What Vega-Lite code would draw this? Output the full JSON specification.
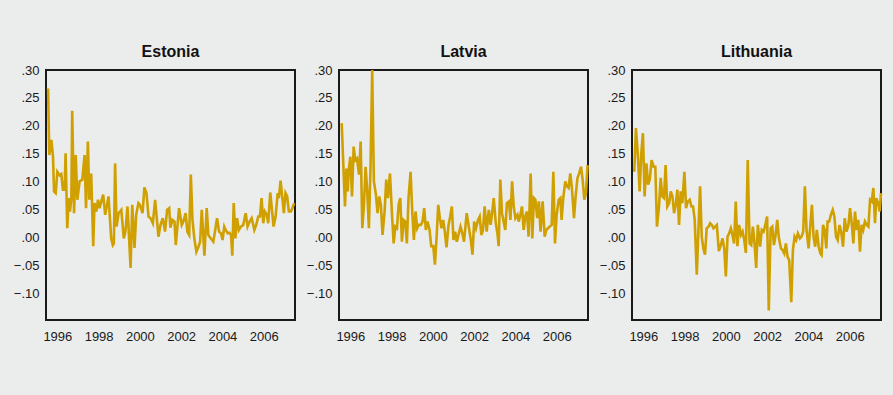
{
  "$schema": "https://vega.github.io/schema/vega-lite/v6.json",
  "background": "#ebecec",
  "padding": {"left": 10, "top": 43, "right": 20, "bottom": 60},
  "spacing": 2,
  "config": {
    "view": {"stroke": "#1a1a1a", "strokeWidth": 2, "fill": null},
    "axis": {"domain": false, "ticks": false, "grid": false, "labelFont": "Liberation Sans", "labelFontSize": 13, "labelColor": "#1a1a1a", "title": null},
    "title": {"font": "Liberation Sans", "fontSize": 16, "fontWeight": "bold", "color": "#111111", "anchor": "middle", "frame": "group", "baseline": "alphabetic", "offset": 4},
    "line": {"color": "#cfa000", "strokeWidth": 2.6, "clip": true}
  },
  "datasets": {
    "est": [
      {"t":1995.55,"v":0.267},{"t":1995.61,"v":0.148},{"t":1995.71,"v":0.175},{"t":1995.79,"v":0.145},{"t":1995.84,"v":0.083},{"t":1995.92,"v":0.080},{"t":1996.00,"v":0.118},{"t":1996.11,"v":0.112},{"t":1996.19,"v":0.114},{"t":1996.27,"v":0.086},{"t":1996.35,"v":0.086},{"t":1996.40,"v":0.151},{"t":1996.48,"v":0.017},{"t":1996.55,"v":0.071},{"t":1996.61,"v":0.047},{"t":1996.68,"v":0.071},{"t":1996.72,"v":0.227},{"t":1996.81,"v":0.044},{"t":1996.89,"v":0.148},{"t":1996.97,"v":0.068},{"t":1997.08,"v":0.101},{"t":1997.21,"v":0.104},{"t":1997.32,"v":0.148},{"t":1997.39,"v":0.053},{"t":1997.48,"v":0.172},{"t":1997.55,"v":0.068},{"t":1997.64,"v":0.115},{"t":1997.74,"v":-0.015},{"t":1997.80,"v":0.062},{"t":1997.89,"v":0.047},{"t":1997.97,"v":0.068},{"t":1998.05,"v":0.053},{"t":1998.13,"v":0.065},{"t":1998.22,"v":0.077},{"t":1998.32,"v":0.041},{"t":1998.48,"v":0.074},{"t":1998.61,"v":-0.001},{"t":1998.69,"v":-0.013},{"t":1998.74,"v":-0.010},{"t":1998.80,"v":0.133},{"t":1998.87,"v":0.020},{"t":1998.97,"v":0.044},{"t":1999.10,"v":0.050},{"t":1999.22,"v":-0.001},{"t":1999.30,"v":0.011},{"t":1999.40,"v":0.056},{"t":1999.47,"v":0.005},{"t":1999.55,"v":-0.054},{"t":1999.63,"v":0.059},{"t":1999.74,"v":-0.018},{"t":1999.82,"v":0.041},{"t":1999.93,"v":0.062},{"t":2000.00,"v":0.059},{"t":2000.13,"v":0.044},{"t":2000.22,"v":0.090},{"t":2000.32,"v":0.080},{"t":2000.42,"v":0.038},{"t":2000.52,"v":0.035},{"t":2000.63,"v":0.026},{"t":2000.74,"v":0.068},{"t":2000.90,"v":0.002},{"t":2001.00,"v":0.023},{"t":2001.11,"v":0.035},{"t":2001.22,"v":0.011},{"t":2001.32,"v":0.050},{"t":2001.42,"v":0.053},{"t":2001.48,"v":0.018},{"t":2001.58,"v":0.032},{"t":2001.68,"v":0.029},{"t":2001.74,"v":-0.013},{"t":2001.90,"v":0.053},{"t":2002.03,"v":0.023},{"t":2002.11,"v":0.029},{"t":2002.22,"v":0.044},{"t":2002.30,"v":0.011},{"t":2002.39,"v":0.005},{"t":2002.47,"v":0.113},{"t":2002.55,"v":0.032},{"t":2002.64,"v":-0.001},{"t":2002.74,"v":-0.025},{"t":2002.84,"v":-0.016},{"t":2002.92,"v":-0.007},{"t":2003.00,"v":0.050},{"t":2003.13,"v":-0.032},{"t":2003.24,"v":0.053},{"t":2003.32,"v":0.005},{"t":2003.43,"v":-0.001},{"t":2003.56,"v":-0.007},{"t":2003.64,"v":0.011},{"t":2003.74,"v":0.035},{"t":2003.84,"v":0.011},{"t":2003.93,"v":0.008},{"t":2004.01,"v":-0.004},{"t":2004.09,"v":0.020},{"t":2004.16,"v":0.014},{"t":2004.26,"v":0.008},{"t":2004.35,"v":0.009},{"t":2004.42,"v":0.005},{"t":2004.48,"v":-0.032},{"t":2004.55,"v":0.062},{"t":2004.63,"v":-0.001},{"t":2004.71,"v":0.035},{"t":2004.80,"v":0.014},{"t":2004.90,"v":0.020},{"t":2005.01,"v":0.023},{"t":2005.13,"v":0.044},{"t":2005.22,"v":0.020},{"t":2005.32,"v":0.029},{"t":2005.42,"v":0.035},{"t":2005.55,"v":0.014},{"t":2005.64,"v":0.023},{"t":2005.74,"v":0.038},{"t":2005.82,"v":0.038},{"t":2005.90,"v":0.071},{"t":2005.98,"v":0.026},{"t":2006.06,"v":0.047},{"t":2006.16,"v":0.041},{"t":2006.22,"v":0.026},{"t":2006.32,"v":0.081},{"t":2006.42,"v":0.044},{"t":2006.48,"v":0.020},{"t":2006.58,"v":0.038},{"t":2006.68,"v":0.080},{"t":2006.74,"v":0.071},{"t":2006.82,"v":0.102},{"t":2006.90,"v":0.074},{"t":2006.98,"v":0.044},{"t":2007.06,"v":0.080},{"t":2007.14,"v":0.074},{"t":2007.22,"v":0.047},{"t":2007.32,"v":0.047},{"t":2007.39,"v":0.053},{"t":2007.48,"v":0.062}
    ],
    "lat": [
      {"t":1995.58,"v":0.205},{"t":1995.66,"v":0.130},{"t":1995.74,"v":0.056},{"t":1995.81,"v":0.124},{"t":1995.87,"v":0.083},{"t":1995.93,"v":0.124},{"t":1996.00,"v":0.145},{"t":1996.08,"v":0.074},{"t":1996.16,"v":0.163},{"t":1996.24,"v":0.139},{"t":1996.32,"v":0.142},{"t":1996.42,"v":0.113},{"t":1996.50,"v":0.172},{"t":1996.58,"v":0.017},{"t":1996.66,"v":0.059},{"t":1996.74,"v":0.127},{"t":1996.82,"v":0.083},{"t":1996.90,"v":0.017},{"t":1996.98,"v":0.130},{"t":1997.06,"v":0.300},{"t":1997.14,"v":0.101},{"t":1997.24,"v":0.077},{"t":1997.32,"v":0.044},{"t":1997.40,"v":0.074},{"t":1997.48,"v":0.059},{"t":1997.56,"v":0.005},{"t":1997.66,"v":0.047},{"t":1997.74,"v":0.104},{"t":1997.82,"v":0.071},{"t":1997.92,"v":0.115},{"t":1998.02,"v":0.041},{"t":1998.10,"v":-0.010},{"t":1998.18,"v":0.020},{"t":1998.26,"v":0.017},{"t":1998.34,"v":0.059},{"t":1998.42,"v":0.071},{"t":1998.50,"v":-0.007},{"t":1998.58,"v":0.032},{"t":1998.66,"v":0.029},{"t":1998.74,"v":-0.010},{"t":1998.82,"v":0.071},{"t":1998.92,"v":0.118},{"t":1999.00,"v":0.047},{"t":1999.08,"v":-0.004},{"t":1999.16,"v":0.047},{"t":1999.24,"v":0.017},{"t":1999.32,"v":0.023},{"t":1999.42,"v":0.023},{"t":1999.50,"v":0.029},{"t":1999.58,"v":0.053},{"t":1999.66,"v":0.014},{"t":1999.74,"v":0.029},{"t":1999.84,"v":0.014},{"t":1999.92,"v":-0.015},{"t":2000.02,"v":-0.015},{"t":2000.10,"v":-0.048},{"t":2000.18,"v":0.000},{"t":2000.26,"v":0.059},{"t":2000.34,"v":0.035},{"t":2000.42,"v":0.017},{"t":2000.50,"v":0.032},{"t":2000.58,"v":0.011},{"t":2000.66,"v":-0.017},{"t":2000.76,"v":0.023},{"t":2000.84,"v":0.038},{"t":2000.92,"v":0.056},{"t":2001.00,"v":-0.004},{"t":2001.08,"v":0.011},{"t":2001.16,"v":-0.007},{"t":2001.24,"v":0.005},{"t":2001.34,"v":0.020},{"t":2001.43,"v":0.008},{"t":2001.51,"v":-0.007},{"t":2001.64,"v":0.044},{"t":2001.74,"v":0.020},{"t":2001.84,"v":-0.004},{"t":2001.92,"v":-0.030},{"t":2002.00,"v":0.029},{"t":2002.09,"v":0.017},{"t":2002.19,"v":0.032},{"t":2002.27,"v":0.038},{"t":2002.35,"v":0.005},{"t":2002.43,"v":0.014},{"t":2002.51,"v":0.056},{"t":2002.61,"v":0.011},{"t":2002.71,"v":0.050},{"t":2002.80,"v":0.023},{"t":2002.88,"v":0.047},{"t":2002.95,"v":0.071},{"t":2003.05,"v":0.026},{"t":2003.13,"v":0.008},{"t":2003.19,"v":-0.015},{"t":2003.27,"v":0.104},{"t":2003.35,"v":0.044},{"t":2003.43,"v":0.029},{"t":2003.51,"v":0.014},{"t":2003.59,"v":0.062},{"t":2003.69,"v":0.065},{"t":2003.76,"v":0.032},{"t":2003.84,"v":0.101},{"t":2003.92,"v":0.056},{"t":2004.00,"v":0.035},{"t":2004.10,"v":0.041},{"t":2004.16,"v":0.029},{"t":2004.24,"v":0.041},{"t":2004.32,"v":0.056},{"t":2004.40,"v":0.014},{"t":2004.48,"v":0.038},{"t":2004.56,"v":0.047},{"t":2004.64,"v":0.002},{"t":2004.74,"v":0.115},{"t":2004.82,"v":-0.001},{"t":2004.90,"v":0.071},{"t":2004.97,"v":0.068},{"t":2005.06,"v":0.035},{"t":2005.14,"v":0.065},{"t":2005.22,"v":0.011},{"t":2005.32,"v":0.065},{"t":2005.42,"v":0.002},{"t":2005.50,"v":0.014},{"t":2005.58,"v":0.017},{"t":2005.66,"v":0.020},{"t":2005.76,"v":0.023},{"t":2005.84,"v":0.118},{"t":2005.92,"v":-0.010},{"t":2006.00,"v":0.041},{"t":2006.10,"v":0.068},{"t":2006.18,"v":0.071},{"t":2006.24,"v":0.032},{"t":2006.32,"v":0.071},{"t":2006.42,"v":0.101},{"t":2006.50,"v":0.092},{"t":2006.58,"v":0.089},{"t":2006.66,"v":0.115},{"t":2006.74,"v":0.089},{"t":2006.84,"v":0.035},{"t":2006.92,"v":0.074},{"t":2007.01,"v":0.107},{"t":2007.09,"v":0.115},{"t":2007.18,"v":0.127},{"t":2007.26,"v":0.104},{"t":2007.34,"v":0.068},{"t":2007.42,"v":0.080},{"t":2007.50,"v":0.130}
    ],
    "lit": [
      {"t":1995.56,"v":0.118},{"t":1995.64,"v":0.196},{"t":1995.73,"v":0.151},{"t":1995.82,"v":0.083},{"t":1995.90,"v":0.151},{"t":1995.98,"v":0.187},{"t":1996.06,"v":0.074},{"t":1996.15,"v":0.133},{"t":1996.23,"v":0.095},{"t":1996.31,"v":0.104},{"t":1996.40,"v":0.139},{"t":1996.50,"v":0.127},{"t":1996.58,"v":0.127},{"t":1996.66,"v":0.020},{"t":1996.76,"v":0.056},{"t":1996.84,"v":0.107},{"t":1996.92,"v":0.074},{"t":1997.00,"v":0.071},{"t":1997.08,"v":0.130},{"t":1997.16,"v":0.056},{"t":1997.25,"v":0.062},{"t":1997.33,"v":0.083},{"t":1997.41,"v":0.074},{"t":1997.49,"v":0.044},{"t":1997.57,"v":0.059},{"t":1997.65,"v":0.086},{"t":1997.73,"v":0.023},{"t":1997.81,"v":0.083},{"t":1997.89,"v":0.062},{"t":1997.99,"v":0.118},{"t":1998.07,"v":0.053},{"t":1998.15,"v":0.065},{"t":1998.25,"v":0.068},{"t":1998.33,"v":0.056},{"t":1998.41,"v":0.056},{"t":1998.49,"v":0.032},{"t":1998.59,"v":-0.066},{"t":1998.67,"v":0.014},{"t":1998.75,"v":0.092},{"t":1998.83,"v":0.002},{"t":1998.91,"v":-0.019},{"t":1998.99,"v":-0.030},{"t":1999.07,"v":0.017},{"t":1999.16,"v":0.020},{"t":1999.24,"v":0.026},{"t":1999.32,"v":0.023},{"t":1999.40,"v":0.017},{"t":1999.48,"v":0.020},{"t":1999.56,"v":0.023},{"t":1999.66,"v":-0.024},{"t":1999.74,"v":-0.015},{"t":1999.84,"v":-0.001},{"t":1999.92,"v":-0.019},{"t":2000.00,"v":-0.069},{"t":2000.08,"v":0.002},{"t":2000.16,"v":0.008},{"t":2000.24,"v":0.017},{"t":2000.32,"v":0.005},{"t":2000.40,"v":-0.010},{"t":2000.48,"v":0.065},{"t":2000.56,"v":-0.015},{"t":2000.64,"v":0.023},{"t":2000.73,"v":0.005},{"t":2000.81,"v":0.011},{"t":2000.89,"v":-0.004},{"t":2000.97,"v":-0.027},{"t":2001.06,"v":0.139},{"t":2001.15,"v":-0.010},{"t":2001.23,"v":-0.013},{"t":2001.31,"v":0.020},{"t":2001.39,"v":-0.010},{"t":2001.47,"v":-0.054},{"t":2001.55,"v":0.023},{"t":2001.66,"v":-0.016},{"t":2001.74,"v":0.014},{"t":2001.83,"v":0.011},{"t":2001.91,"v":0.023},{"t":2002.00,"v":0.038},{"t":2002.08,"v":-0.130},{"t":2002.17,"v":0.017},{"t":2002.25,"v":0.020},{"t":2002.33,"v":-0.013},{"t":2002.41,"v":0.005},{"t":2002.49,"v":0.032},{"t":2002.57,"v":0.000},{"t":2002.67,"v":-0.019},{"t":2002.75,"v":-0.022},{"t":2002.83,"v":-0.028},{"t":2002.91,"v":-0.010},{"t":2002.99,"v":-0.034},{"t":2003.07,"v":-0.040},{"t":2003.17,"v":-0.115},{"t":2003.25,"v":-0.022},{"t":2003.33,"v":0.002},{"t":2003.41,"v":-0.004},{"t":2003.49,"v":0.008},{"t":2003.59,"v":-0.001},{"t":2003.67,"v":0.002},{"t":2003.75,"v":0.011},{"t":2003.83,"v":0.092},{"t":2003.91,"v":0.014},{"t":2004.01,"v":-0.019},{"t":2004.09,"v":0.020},{"t":2004.17,"v":0.059},{"t":2004.25,"v":0.002},{"t":2004.33,"v":-0.016},{"t":2004.41,"v":0.014},{"t":2004.50,"v":-0.016},{"t":2004.58,"v":-0.028},{"t":2004.64,"v":-0.031},{"t":2004.71,"v":0.023},{"t":2004.79,"v":0.014},{"t":2004.87,"v":-0.019},{"t":2004.93,"v":0.029},{"t":2005.01,"v":0.029},{"t":2005.09,"v":0.041},{"t":2005.18,"v":0.050},{"t":2005.26,"v":0.038},{"t":2005.34,"v":0.002},{"t":2005.42,"v":-0.004},{"t":2005.51,"v":0.023},{"t":2005.60,"v":0.008},{"t":2005.68,"v":-0.016},{"t":2005.76,"v":0.035},{"t":2005.85,"v":0.011},{"t":2005.94,"v":0.023},{"t":2006.02,"v":0.053},{"t":2006.10,"v":0.026},{"t":2006.18,"v":-0.010},{"t":2006.26,"v":0.047},{"t":2006.34,"v":0.014},{"t":2006.42,"v":0.032},{"t":2006.50,"v":-0.025},{"t":2006.58,"v":0.023},{"t":2006.66,"v":0.014},{"t":2006.74,"v":0.029},{"t":2006.83,"v":0.023},{"t":2006.91,"v":0.020},{"t":2006.99,"v":0.068},{"t":2007.07,"v":0.065},{"t":2007.15,"v":0.089},{"t":2007.23,"v":0.026},{"t":2007.29,"v":0.071},{"t":2007.38,"v":0.062},{"t":2007.46,"v":0.047},{"t":2007.52,"v":0.080}
    ]
  },
  "hconcat": [
    {
      "title": {"text": "Estonia"},
      "width": 249, "height": 250,
      "data": {"name": "est"},
      "mark": {"type": "line"},
      "encoding": {
        "x": {"field": "t", "type": "quantitative", "scale": {"domain": [1995.45, 2007.52], "nice": false, "zero": false}, "axis": {"values": [1996, 1998, 2000, 2002, 2004, 2006], "format": "d", "labelPadding": 10, "labelFlush": false, "labelOverlap": false}},
        "y": {"field": "v", "type": "quantitative", "scale": {"domain": [-0.147, 0.30], "nice": false, "zero": false}, "axis": {"values": [-0.10, -0.05, 0, 0.05, 0.10, 0.15, 0.20, 0.25, 0.30], "labelExpr": "replace(format(datum.value, '.2f'), '0.', '.')", "labelPadding": 7, "minExtent": 35, "maxExtent": 35, "labelFlush": false, "labelOverlap": false}}
      }
    },
    {
      "title": {"text": "Latvia"},
      "width": 249, "height": 250,
      "data": {"name": "lat"},
      "mark": {"type": "line"},
      "encoding": {
        "x": {"field": "t", "type": "quantitative", "scale": {"domain": [1995.45, 2007.52], "nice": false, "zero": false}, "axis": {"values": [1996, 1998, 2000, 2002, 2004, 2006], "format": "d", "labelPadding": 10, "labelFlush": false, "labelOverlap": false}},
        "y": {"field": "v", "type": "quantitative", "scale": {"domain": [-0.147, 0.30], "nice": false, "zero": false}, "axis": {"values": [-0.10, -0.05, 0, 0.05, 0.10, 0.15, 0.20, 0.25, 0.30], "labelExpr": "replace(format(datum.value, '.2f'), '0.', '.')", "labelPadding": 7, "minExtent": 35, "maxExtent": 35, "labelFlush": false, "labelOverlap": false}}
      }
    },
    {
      "title": {"text": "Lithuania"},
      "width": 249, "height": 250,
      "data": {"name": "lit"},
      "mark": {"type": "line"},
      "encoding": {
        "x": {"field": "t", "type": "quantitative", "scale": {"domain": [1995.45, 2007.52], "nice": false, "zero": false}, "axis": {"values": [1996, 1998, 2000, 2002, 2004, 2006], "format": "d", "labelPadding": 10, "labelFlush": false, "labelOverlap": false}},
        "y": {"field": "v", "type": "quantitative", "scale": {"domain": [-0.147, 0.30], "nice": false, "zero": false}, "axis": {"values": [-0.10, -0.05, 0, 0.05, 0.10, 0.15, 0.20, 0.25, 0.30], "labelExpr": "replace(format(datum.value, '.2f'), '0.', '.')", "labelPadding": 7, "minExtent": 35, "maxExtent": 35, "labelFlush": false, "labelOverlap": false}}
      }
    }
  ]
}
